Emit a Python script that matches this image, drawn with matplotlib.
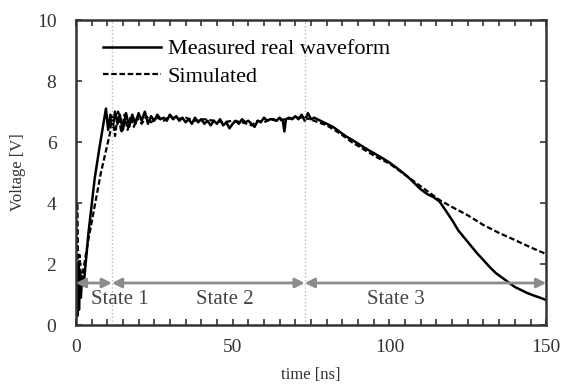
import numpy as np
import matplotlib
matplotlib.use('Agg')
import matplotlib.pyplot as plt
from matplotlib.ticker import MultipleLocator

plt.rcParams['font.family'] = ['Liberation Serif', 'DejaVu Serif']

# Measured real waveform (time [ns], voltage [V])
t_meas = [0, 0.3, 0.5, 0.8, 1.0, 1.3, 1.6, 2.0, 2.5, 4, 6, 7.5, 9.6, 10.3, 11, 11.8,
          12.5, 13.3, 14, 15, 16, 17, 18, 19, 20, 21, 22, 23, 24, 25, 26, 27, 28, 29,
          30, 31, 32, 33, 34, 35, 36, 37, 38, 39, 40, 41, 42, 43, 44, 45, 46, 47, 48,
          49, 50, 51, 52, 53, 54, 55, 56, 57, 58, 59, 60, 61, 62, 63, 64, 65, 66,
          66.5, 67, 68, 69, 70, 71, 72, 73, 74, 75, 76, 78, 80, 82, 84, 86, 88, 90,
          92, 94, 96, 98, 100, 102, 104, 106, 108, 110, 112, 114, 116, 118, 120, 122,
          124, 126, 128, 130, 132, 134, 136, 138, 140, 142, 144, 146, 148, 150]
v_meas = [0.1, 1.9, 0.3, 2.0, 0.5, 1.8, 0.9, 1.6, 1.3, 3.0, 4.8, 5.8, 7.1, 6.4, 6.9, 6.5,
          7.0, 6.6, 6.9, 6.4, 6.95, 6.5, 6.9, 6.6, 6.95, 6.7, 7.0, 6.6, 6.85, 6.7, 6.9,
          6.75, 6.8, 6.7, 6.9, 6.75, 6.85, 6.7, 6.8, 6.65, 6.75, 6.6, 6.8, 6.65, 6.75,
          6.6, 6.7, 6.55, 6.7, 6.6, 6.75, 6.55, 6.65, 6.45, 6.6, 6.7, 6.6, 6.75, 6.65,
          6.7, 6.6, 6.5, 6.7, 6.65, 6.8, 6.7, 6.75, 6.75, 6.7, 6.8, 6.7, 6.35, 6.75,
          6.8, 6.75, 6.85, 6.75, 6.9, 6.7, 6.95, 6.75, 6.8, 6.7, 6.6, 6.5, 6.35, 6.2,
          6.08, 5.95, 5.82, 5.7, 5.58, 5.46, 5.33, 5.18, 5.02, 4.85, 4.65, 4.45, 4.3, 4.2,
          4.05, 3.75, 3.44, 3.1, 2.85, 2.6, 2.35, 2.13, 1.9, 1.7, 1.55, 1.4, 1.25, 1.15,
          1.05, 0.97, 0.9, 0.82]

# Simulated waveform
t_sim = [0, 0.2, 0.5, 0.8, 1.2, 1.6, 2.2, 4, 6, 8, 10.9, 11.5, 12.5, 13.5, 14.5, 15.5,
         16.5, 17.5, 18.5, 19.5, 21, 22.5, 24, 26, 28, 30, 32, 35, 38, 41, 44, 47, 50,
         53, 56, 58, 60, 62, 64, 67, 70, 73, 76, 80, 84, 88, 92, 96, 100, 104, 108,
         112, 116, 120, 125, 130, 135, 140, 145, 150]
v_sim = [0.0, 3.8, 4.0, 1.2, 2.3, 1.5, 1.7, 2.8, 3.9, 5.0, 6.3, 6.9, 6.2, 7.0, 6.3, 6.9,
         6.4, 6.85, 6.5, 6.8, 6.6, 6.85, 6.65, 6.8, 6.7, 6.85, 6.75, 6.8, 6.7, 6.75,
         6.7, 6.65, 6.7, 6.65, 6.55, 6.7, 6.65, 6.75, 6.7, 6.75, 6.8, 6.8, 6.7, 6.55,
         6.3, 6.0, 5.75, 5.5, 5.3, 5.0, 4.7, 4.4, 4.1, 3.87, 3.6, 3.28, 3.02, 2.79,
         2.55, 2.33]

# State boundaries [ns]
state_edges = [0, 11.5, 73, 150]
state_names = ['State 1', 'State 2', 'State 3']
state_label_x = [14, 47.5, 102]

fig = plt.figure(figsize=(5.66, 3.87), dpi=100)
ax = fig.add_axes([0.134, 0.160, 0.831, 0.788])

ax.plot(t_meas, v_meas, '-', color='black', lw=1.8, label='Measured real waveform')
ax.plot(t_sim, v_sim, '--', color='black', lw=1.6, dashes=(2.5, 1.2), label='Simulated')

for xe in state_edges[1:3]:
    ax.axvline(xe, color='#bbbbbb', lw=1.0, ls=':')

arrow_y = 1.38
for i in range(3):
    ax.annotate('', xy=(state_edges[i], arrow_y), xytext=(state_edges[i + 1], arrow_y),
                arrowprops=dict(arrowstyle='<|-|>', color='#8c8c8c', lw=2,
                                mutation_scale=14, shrinkA=0, shrinkB=0))
    ax.text(state_label_x[i], 0.85, state_names[i], ha='center', va='center',
            fontsize=15, color='#444444')

ax.set_xlim(0, 150)
ax.set_ylim(0, 10)
ax.xaxis.set_major_locator(MultipleLocator(50))
ax.xaxis.set_minor_locator(MultipleLocator(5))
ax.yaxis.set_major_locator(MultipleLocator(2))
ax.tick_params(which='both', direction='in', top=True, right=True, labelsize=14,
               colors='#333333', width=1.2)
ax.tick_params(which='both', length=4)
ax.tick_params(axis='x', pad=10)
ax.tick_params(axis='y', pad=14)
for s in ax.spines.values():
    s.set_linewidth(1.8)
    s.set_color('#333333')

ax.set_xlabel('time [ns]', fontsize=12, color='#333333', labelpad=8)
ax.set_ylabel('Voltage [V]', fontsize=12, color='#333333', labelpad=8)

ax.legend(loc='upper left', frameon=False, fontsize=16, handlelength=2.6,
          handletextpad=0.3, labelspacing=0.3, borderaxespad=0.3,
          bbox_to_anchor=(0.025, 0.99))

plt.savefig('out.png', dpi=100)
